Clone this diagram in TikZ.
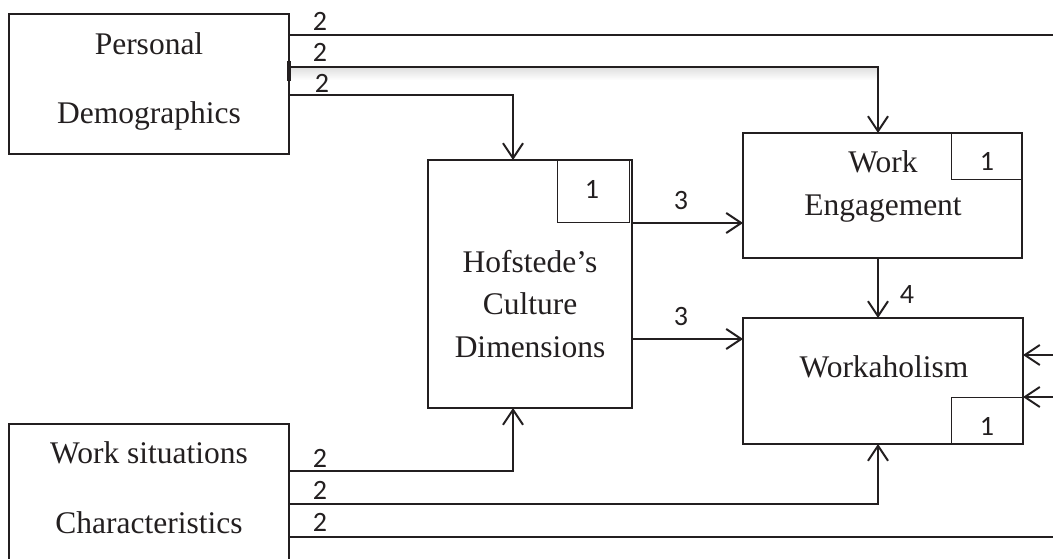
\documentclass[tikz,border=0pt]{standalone}
\usepackage{fontspec}
\setmainfont{Liberation Serif}
\newfontfamily\numfont{Carlito}
\usetikzlibrary{arrows.meta}
\definecolor{ink}{RGB}{35,31,32}
\tikzset{
  box/.style={draw=ink,line width=2pt,anchor=north west,inner sep=0pt,outer sep=0pt},
  tag/.style={draw=ink,line width=1pt,anchor=north west,inner sep=0pt,outer sep=0pt},
  lbl/.style={font=\fontsize{31.5}{36}\selectfont,text=ink,anchor=base,inner sep=0pt},
  num/.style={font=\numfont\fontsize{28}{32}\selectfont,text=ink,anchor=base,inner sep=0pt},
  conn/.style={draw=ink,line width=2pt},
  arr/.style={conn,-{Straight Barb[length=15pt,width=20pt]}},
}
\begin{document}
\begin{tikzpicture}[x=1pt,y=-1pt]
\useasboundingbox (0,0) rectangle (1053,559);
\clip (0,0) rectangle (1053,559);
\fill[white] (0,0) rectangle (1053,559);
% faint shadow under second line
\shade[top color=black!12,bottom color=white] (290,68) rectangle (878,80);
% main boxes
\node[box,minimum width=280pt,minimum height=140pt] (pd) at (9,14) {};
\node[box,minimum width=280pt,minimum height=170pt] (ws) at (9,424) {};
\node[box,minimum width=204pt,minimum height=248pt] (hof) at (428,160) {};
\node[box,minimum width=279pt,minimum height=125pt] (we) at (743,133) {};
\node[box,minimum width=280pt,minimum height=126pt] (wa) at (743,318) {};
% small tag boxes
\node[tag,minimum width=72pt,minimum height=62pt] (hofone) at (557,160) {};
\node[tag,minimum width=71pt,minimum height=47pt] (weone) at (951,133) {};
\node[tag,minimum width=71pt,minimum height=47pt,anchor=south west] (waone) at (951,444) {};
% texts
\node[lbl] (tpa) at (149,55) {Personal};
\node[lbl] (tpb) at (149,124) {Demographics};
\node[lbl] (twa) at (149,463) {Work situations};
\node[lbl] (twb) at (149,533) {Characteristics};
\node[lbl] (tha) at (530,272) {Hofstede’s};
\node[lbl] (thb) at (530,314) {Culture};
\node[lbl] (thc) at (530,357) {Dimensions};
\node[lbl] (tea) at (883,173) {Work};
\node[lbl] (teb) at (883,215) {Engagement};
\node[lbl] (tw) at (884,377) {Workaholism};
% numbers
\node[num] (na) at (320,31) {2};
\node[num] (nb) at (320,62) {2};
\node[num] (nc) at (322,93) {2};
\node[num] (nd) at (320,467) {2};
\node[num] (ne) at (320,499) {2};
\node[num] (nf) at (320,531) {2};
\node[num] (ng) at (681,209) {3};
\node[num] (nh) at (681,325) {3};
\node[num] (ni) at (907,303) {4};
\node[num] (nj) at (592,199) {1};
\node[num] (nk) at (987,171) {1};
\node[num] (nl) at (987,435) {1};
% free ends at the right border
\coordinate (edgeA) at (1053,35);
\coordinate (edgeB) at (1053,355);
\coordinate (edgeC) at (1053,397);
\coordinate (edgeD) at (1053,537);
% connectors
\draw[conn] ([yshift=-21pt]pd.north east) -- (edgeA);
\draw[arr] ([yshift=-53pt]pd.north east) -| ([xshift=135pt]we.north west);
\draw[arr] ([yshift=-81pt]pd.north east) -| ([xshift=85pt]hof.north west);
\draw[ink,line width=4pt] ([yshift=-47pt]pd.north east) -- ([yshift=-67pt]pd.north east);
\draw[arr] ([yshift=-63pt]hof.north east) -- ([yshift=-90pt]we.north west);
\draw[arr] ([yshift=-179pt]hof.north east) -- ([yshift=-21pt]wa.north west);
\draw[arr] ([xshift=135pt]we.south west) -- ([xshift=135pt]wa.north west);
\draw[arr] ([yshift=-47pt]ws.north east) -| ([xshift=85pt]hof.south west);
\draw[arr] ([yshift=-80pt]ws.north east) -| ([xshift=135pt]wa.south west);
\draw[conn] ([yshift=-113pt]ws.north east) -- (edgeD);
\draw[arr] (edgeB) -- ([yshift=-37pt]wa.north east);
\draw[arr] (edgeC) -- ([yshift=-79pt]wa.north east);
\end{tikzpicture}
\end{document}
